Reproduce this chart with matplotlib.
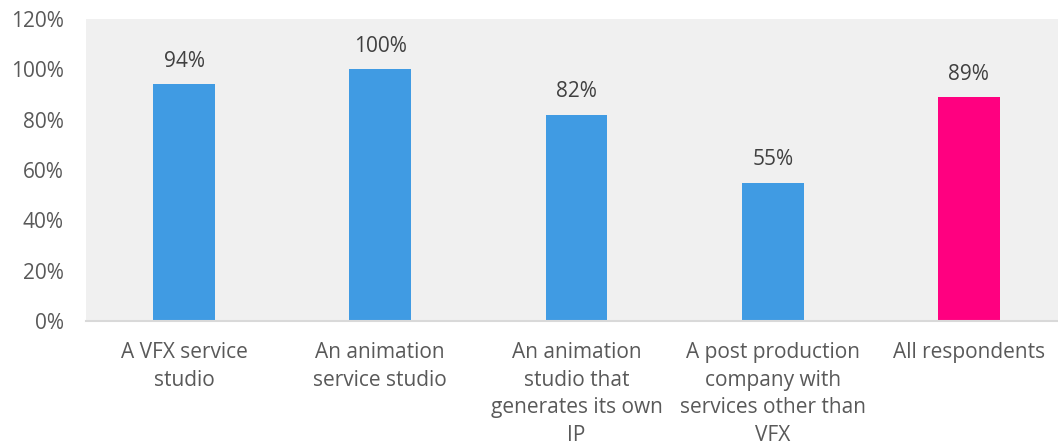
import matplotlib
matplotlib.use("Agg")
import matplotlib.pyplot as plt
from matplotlib.ticker import FuncFormatter

categories = [
    "A VFX service\nstudio",
    "An animation\nservice studio",
    "An animation\nstudio that\ngenerates its own\nIP",
    "A post production\ncompany with\nservices other than\nVFX",
    "All respondents",
]
values = [94, 100, 82, 55, 89]
bar_colors = ["#409be3", "#409be3", "#409be3", "#409be3", "#ff0080"]
y_ticks = [0, 20, 40, 60, 80, 100, 120]

plt.rcParams["font.family"] = ["Open Sans", "DejaVu Sans"]

W, H = 1058, 448
fig = plt.figure(figsize=(W / 100, H / 100), dpi=100)
left, right, top, bottom = 86, 1067, 19, 321
ax = fig.add_axes([left / W, 1 - bottom / H, (right - left) / W, (bottom - top) / H])
ax.set_facecolor("#f0f0f0")

x = list(range(len(categories)))
ax.bar(x, values, width=0.316, color=bar_colors, zorder=2)

for xi, v in zip(x, values):
    ax.annotate(f"{v}%", (xi, v), xytext=(0, 12.5), textcoords="offset points",
                ha="center", va="baseline", fontsize=15, color="#404040")

ax.set_xlim(-0.5, len(categories) - 0.5)
ax.set_ylim(0, 120)
ax.set_yticks(y_ticks)
ax.yaxis.set_major_formatter(FuncFormatter(lambda v, p: f"{v:.0f}%"))
ax.set_xticks(x)
ax.set_xticklabels(categories, linespacing=1.42)

for s in ["top", "right", "left"]:
    ax.spines[s].set_visible(False)
ax.spines["bottom"].set_color("#d9d9d9")
ax.spines["bottom"].set_linewidth(1.5)

ax.tick_params(axis="y", length=0, pad=16, labelsize=15, labelcolor="#595959")
ax.tick_params(axis="x", length=0, pad=15, labelsize=15, labelcolor="#595959")

fig.savefig("out.png", dpi=100)
